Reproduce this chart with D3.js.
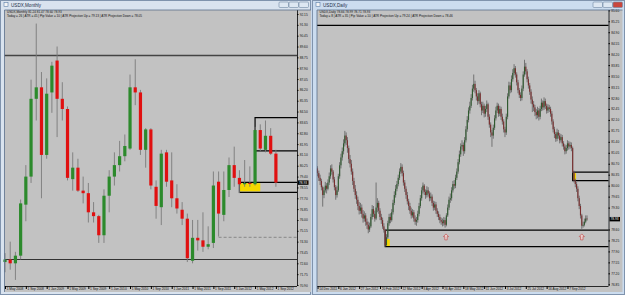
<!DOCTYPE html>
<html>
<head>
<meta charset="utf-8">
<script src="https://cdn.jsdelivr.net/npm/d3@7"></script>
<style>
  body { margin: 0; background: #c9d8ea; }
  svg { display: block; font-family: "Liberation Sans", Arial, sans-serif; }
</style>
</head>
<body>
<script>
// ---- USDX monthly, May 2008 .. Sep 2012
const monthOpen  = [72.7,72.9,72.6,73.2,77.2,79.4,85.5,86.4,81.1,86.0,88.5,85.5,84.7,79.2,80.1,78.3,78.1,76.6,76.3,74.8,77.9,79.4,80.3,81.0,81.6,86.4,86.0,81.5,83.1,78.6,77.0,81.3,79.1,77.7,76.8,76.1,72.8,74.6,74.4,73.9,74.2,79.0,76.4,78.35,80.3,79.3,78.8,78.9,78.8,83.05,81.5,82.6,81.2];
const monthHigh  = [73.4,74.3,73.5,77.6,80.3,87.0,91.4,87.6,87.1,88.4,89.6,86.8,84.9,81.3,80.8,79.4,78.9,77.4,76.4,78.4,79.9,81.3,82.2,82.7,87.4,88.6,86.2,83.2,83.2,79.1,81.5,81.5,81.3,78.8,77.4,76.5,76.0,76.0,76.6,75.5,79.8,79.8,79.8,80.9,81.75,79.9,80.7,80.2,83.3,83.5,83.8,83.2,81.5];
const monthLow   = [71.9,72.1,71.3,72.9,75.9,78.9,83.8,77.7,80.8,84.4,82.5,83.8,79.1,78.3,78.2,77.3,75.8,75.8,74.2,74.2,76.6,78.7,79.8,80.6,81.5,85.0,81.1,80.1,78.4,76.1,75.6,78.6,77.0,76.5,75.6,72.7,72.6,73.6,73.5,73.7,73.8,74.7,75.9,77.8,78.6,78.1,78.6,78.6,78.7,81.4,81.3,81.1,78.6];
const monthClose = [72.9,72.6,73.2,77.3,79.4,85.5,86.4,81.1,85.9,88.1,85.5,84.7,79.3,80.1,78.3,78.1,76.6,76.3,74.8,77.9,79.4,80.3,81.0,81.8,86.4,86.0,81.5,83.1,78.7,77.1,81.2,79.0,77.7,76.9,76.1,73.0,74.6,74.4,73.9,74.1,78.7,76.5,78.35,80.3,79.3,78.8,78.9,78.82,83.05,81.6,82.6,81.2,78.93];
const monthDates = ["1 May 2008","1 Sep 2008","1 Jan 2009","1 May 2009","1 Sep 2009","1 Jan 2010","1 May 2010","1 Sep 2010","1 Jan 2011","1 May 2011","1 Sep 2011","1 Jan 2012","1 May 2012","1 Sep 2012"];
const monthPrices = [70.90,71.75,72.60,73.45,74.30,75.15,76.00,76.85,77.70,78.55,79.40,80.25,81.10,81.95,82.80,83.65,84.50,85.35,86.20,87.05,87.90,88.75,89.60,90.45,91.30,92.15];

// ---- USDX daily, Dec 2011 .. Sep 2012
const dayOpen = [80.55,80.40,80.25,80.15,79.95,79.70,79.85,80.00,79.90,80.10,
  80.30,80.55,80.45,80.20,79.95,79.70,79.85,80.30,80.65,80.90,
  81.10,81.35,81.60,81.45,81.20,80.85,80.70,80.45,80.15,79.90,
  79.70,79.55,79.35,79.20,79.30,79.10,78.95,79.05,78.85,78.75,
  78.60,78.70,79.00,79.25,79.10,78.95,79.30,79.45,79.20,79.00,
  78.90,78.70,78.58,78.10,78.35,78.80,79.00,78.90,79.15,79.45,
  79.70,79.90,80.05,80.25,80.45,80.60,80.40,80.10,79.90,79.70,
  79.50,79.35,79.20,79.05,79.15,78.95,78.85,78.90,79.10,79.35,
  79.60,79.85,80.00,79.80,79.70,79.85,79.75,79.60,79.65,79.45,
  79.30,79.40,79.20,79.10,79.00,78.90,78.85,78.80,78.90,78.75,
  79.05,79.30,79.55,79.60,79.85,80.05,80.00,80.25,80.45,80.75,
  81.00,81.25,81.30,81.10,81.45,81.80,82.10,82.40,82.55,82.80,
  83.10,83.25,83.05,82.85,82.70,82.95,82.60,82.40,82.55,82.30,
  82.45,82.60,82.20,81.95,81.70,81.60,81.85,82.15,82.40,82.55,
  82.30,82.45,82.20,82.05,81.80,81.70,82.20,82.85,83.20,83.05,
  83.40,83.60,83.75,83.55,83.30,83.05,82.90,82.80,83.10,83.55,
  83.80,83.65,83.40,83.20,83.00,82.75,82.60,82.50,82.35,82.25,
  82.40,82.20,82.45,82.65,82.50,82.70,82.55,82.40,82.50,82.45,
  82.30,82.05,81.80,81.65,81.50,81.70,81.60,81.45,81.55,81.35,
  81.25,81.10,81.20,81.35,81.25,81.30,81.20,80.43,80.16,80.05,
  79.90,79.60,79.35,79.05,78.72,78.75,78.85,78.95];
const dayHigh = [80.62,80.48,80.35,80.22,80.00,79.95,80.12,80.08,80.20,80.42,
  80.65,80.68,80.50,80.28,80.02,79.98,80.38,80.75,81.02,81.22,
  81.48,81.75,81.70,81.55,81.28,80.98,80.82,80.55,80.25,80.02,
  79.82,79.65,79.48,79.45,79.40,79.22,79.18,79.12,78.95,78.85,
  78.82,79.10,79.38,79.35,79.20,80.10,79.60,79.52,79.28,79.10,
  78.98,78.80,78.62,78.45,78.88,79.10,79.12,79.25,79.55,79.82,
  80.02,80.15,80.35,80.55,80.72,80.68,80.48,80.18,79.98,79.80,
  79.58,79.45,79.30,79.25,79.22,79.05,79.00,79.20,79.45,79.70,
  79.95,80.10,80.05,79.88,79.98,79.95,79.82,79.78,79.72,79.52,
  79.50,79.48,79.28,79.18,79.08,78.98,78.95,79.00,78.98,79.12,
  79.40,79.65,79.75,79.95,80.15,80.18,80.35,80.55,80.85,81.12,
  81.35,81.45,81.38,81.55,81.90,82.22,82.50,82.68,82.92,83.22,
  83.55,83.35,83.12,82.95,83.05,83.00,82.68,82.68,82.62,82.55,
  82.72,82.65,82.28,82.02,81.78,81.95,82.25,82.52,82.65,82.62,
  82.55,82.52,82.30,82.12,81.88,82.30,82.95,83.32,83.30,83.52,
  83.72,83.88,83.82,83.62,83.38,83.12,82.98,83.20,83.65,84.02,
  83.92,83.72,83.48,83.28,83.08,82.85,82.70,82.58,82.45,82.52,
  82.48,82.55,82.78,82.72,82.82,82.78,82.62,82.60,82.58,82.52,
  82.38,82.12,81.88,81.72,81.82,81.78,81.68,81.65,81.62,81.42,
  81.32,81.30,81.45,81.42,81.40,81.38,81.25,80.48,80.22,80.12,
  79.98,79.68,79.42,79.10,78.85,78.95,79.05,79.05];
const dayLow = [80.30,80.15,80.02,79.85,79.33,79.60,79.78,79.75,79.85,80.02,
  80.22,80.35,80.10,79.85,79.55,79.62,79.80,80.22,80.55,80.80,
  81.00,81.25,81.30,81.05,80.72,80.58,80.35,80.02,79.80,79.58,
  79.42,79.22,79.08,79.10,78.98,78.82,78.85,78.72,78.62,78.48,
  78.52,78.65,78.92,79.00,78.85,78.90,79.15,79.10,78.90,78.78,
  78.62,78.50,78.05,78.08,78.30,78.72,78.80,78.85,79.08,79.38,
  79.62,79.82,79.98,80.18,80.38,80.30,80.00,79.80,79.58,79.40,
  79.22,79.10,78.95,78.98,78.85,78.75,78.72,78.82,79.02,79.28,
  79.52,79.75,79.70,79.58,79.62,79.65,79.50,79.52,79.35,79.20,
  79.22,79.10,79.00,78.90,78.80,78.75,78.70,78.72,78.66,78.70,
  79.00,79.22,79.45,79.52,79.78,79.90,79.92,80.18,80.38,80.68,
  80.92,81.15,80.95,81.02,81.38,81.72,82.02,82.30,82.48,82.72,
  83.00,82.95,82.72,82.58,82.62,82.50,82.25,82.32,82.18,82.20,
  82.35,82.10,81.85,81.55,81.24,81.50,81.78,82.08,82.32,82.20,
  82.22,82.10,81.95,81.70,81.55,81.62,82.12,82.78,82.95,82.98,
  83.32,83.52,83.45,83.20,82.95,82.80,82.70,82.72,83.02,83.48,
  83.55,83.30,83.10,82.90,82.62,82.35,82.38,82.22,82.12,82.15,
  82.08,82.12,82.38,82.40,82.42,82.45,82.30,82.32,82.35,82.20,
  81.95,81.70,81.52,81.40,81.42,81.50,81.35,81.38,81.25,81.15,
  81.00,81.02,81.12,81.15,81.18,81.10,80.40,80.10,79.95,79.80,
  79.50,79.25,78.95,78.62,78.66,78.70,78.80,78.88];
const dayClose = [80.40,80.25,80.15,79.95,79.70,79.85,80.00,79.90,80.10,80.30,
  80.55,80.45,80.20,79.95,79.70,79.85,80.30,80.65,80.90,81.10,
  81.35,81.60,81.45,81.20,80.85,80.70,80.45,80.15,79.90,79.70,
  79.55,79.35,79.20,79.30,79.10,78.95,79.05,78.85,78.75,78.60,
  78.70,79.00,79.25,79.10,78.95,79.30,79.45,79.20,79.00,78.90,
  78.70,78.58,78.10,78.35,78.80,79.00,78.90,79.15,79.45,79.70,
  79.90,80.05,80.25,80.45,80.60,80.40,80.10,79.90,79.70,79.50,
  79.35,79.20,79.05,79.15,78.95,78.85,78.90,79.10,79.35,79.60,
  79.85,80.00,79.80,79.70,79.85,79.75,79.60,79.65,79.45,79.30,
  79.40,79.20,79.10,79.00,78.90,78.85,78.80,78.90,78.75,79.05,
  79.30,79.55,79.60,79.85,80.05,80.00,80.25,80.45,80.75,81.00,
  81.25,81.30,81.10,81.45,81.80,82.10,82.40,82.55,82.80,83.10,
  83.25,83.05,82.85,82.70,82.95,82.60,82.40,82.55,82.30,82.45,
  82.60,82.20,81.95,81.70,81.60,81.85,82.15,82.40,82.55,82.30,
  82.45,82.20,82.05,81.80,81.70,82.20,82.85,83.20,83.05,83.40,
  83.60,83.75,83.55,83.30,83.05,82.90,82.80,83.10,83.55,83.80,
  83.65,83.40,83.20,83.00,82.75,82.60,82.50,82.35,82.25,82.40,
  82.20,82.45,82.65,82.50,82.70,82.55,82.40,82.50,82.45,82.30,
  82.05,81.80,81.65,81.50,81.70,81.60,81.45,81.55,81.35,81.25,
  81.10,81.20,81.35,81.25,81.30,81.20,80.43,80.16,80.05,79.90,
  79.60,79.35,79.05,78.72,78.75,78.85,78.95,78.93];
const dayDates = ["14 Dec 2011","6 Jan 2012","27 Jan 2012","20 Feb 2012","12 Mar 2012","3 Apr 2012","26 Apr 2012","18 May 2012","11 Jun 2012","3 Jul 2012","25 Jul 2012","16 Aug 2012","7 Sep 2012"];
const dayPrices = [76.85,77.20,77.55,77.90,78.25,78.60,79.30,79.65,80.00,80.35,80.70,81.05,81.40,81.75,82.10,82.45,82.80,83.15,83.50,83.85,84.20,84.55,84.90,85.25,85.60];

const lastPrice = 78.93;

const W = 625, H = 295;
const svg = d3.select("body").append("svg").attr("width", W).attr("height", H);

// window frame, title bar and buttons
function drawWindow(x0, x1, title, active) {
  const g = svg.append("g");
  g.append("rect").attr("x", x0 + 0.5).attr("y", 0.5).attr("width", x1 - x0 - 1).attr("height", H - 1)
    .attr("fill", active ? "#cbdcef" : "#d9e3ef").attr("stroke", "#7f93ad").attr("stroke-width", 1);
  g.append("rect").attr("x", x0 + 4).attr("y", 2.5).attr("width", 4).attr("height", 4)
    .attr("fill", "#f4f4f4").attr("stroke", "#5a7ea8").attr("stroke-width", 0.6);
  g.append("text").attr("x", x0 + 11).attr("y", 6.6).attr("font-size", 4.6).attr("fill", "#1f2f45").text(title);
  const bx = x1 - 32;
  [0, 10, 20].forEach((d, i) => {
    g.append("rect").attr("x", bx + d).attr("y", 2).attr("width", 9.5).attr("height", 5.5).attr("rx", 1)
      .attr("fill", active && i === 2 ? "#c9463d" : "#dde7f2").attr("stroke", "#6f86a3").attr("stroke-width", 0.6);
  });
}

function drawChart(c) {
  const g = svg.append("g");
  const [L, R, T, B] = c.plot;
  const x = d3.scaleLinear().domain([0, c.open.length - 1]).range(c.xRange);
  const y = d3.scaleLinear().domain(c.yDomain).range(c.yRange);

  g.append("rect").attr("x", L).attr("y", T).attr("width", R - L).attr("height", B - T).attr("fill", "#c2c2c2");
  g.append("rect").attr("x", L).attr("y", B).attr("width", R - L + 14).attr("height", H - B - 3).attr("fill", "#c2c2c2");
  g.append("rect").attr("x", R).attr("y", T).attr("width", 14).attr("height", B - T).attr("fill", "#c2c2c2");

  c.header.forEach((t, i) => g.append("text").attr("x", L + 2.5).attr("y", T + 3.4 + i * 3.5)
    .attr("font-size", 3.1).attr("fill", "#111").text(t));

  // yellow boxes
  c.boxes.forEach(b => g.append("rect")
    .attr("x", x(b.from)).attr("width", x(b.to) - x(b.from))
    .attr("y", y(b.top)).attr("height", y(b.bottom) - y(b.top)).attr("fill", "#f5d800"));

  // horizontal lines
  c.hlines.forEach(h => g.append("line")
    .attr("x1", h.from == null ? L : x(h.from)).attr("x2", R)
    .attr("y1", y(h.price)).attr("y2", y(h.price))
    .attr("stroke", h.color).attr("stroke-width", h.width).attr("stroke-dasharray", h.dash || null));

  // open-ended rectangles
  c.rects.forEach(r => g.append("path")
    .attr("d", `M${R},${y(r.top)}H${x(r.from)}V${y(r.bottom)}H${R}`)
    .attr("fill", "none").attr("stroke", "#000").attr("stroke-width", 1.2));

  // candles
  const bars = d3.range(c.open.length);
  g.append("g").selectAll("line").data(bars).join("line")
    .attr("x1", i => x(i)).attr("x2", i => x(i))
    .attr("y1", i => y(c.high[i])).attr("y2", i => y(c.low[i]))
    .attr("stroke", c.wick).attr("stroke-width", c.wickW);
  g.append("g").selectAll("rect").data(bars).join("rect")
    .attr("x", i => x(i) - c.bodyW / 2).attr("width", c.bodyW)
    .attr("y", i => y(Math.max(c.open[i], c.close[i])))
    .attr("height", i => Math.max(0.8, Math.abs(y(c.open[i]) - y(c.close[i]))))
    .attr("fill", i => c.close[i] >= c.open[i] ? c.up : c.down);

  // arrows
  (c.arrows || []).forEach(a => g.append("path")
    .attr("transform", `translate(${x(a.bar)},${y(a.price)})`)
    .attr("d", "M0,0L2.6,2.7H1.2V6H-1.2V2.7H-2.6Z")
    .attr("fill", "#ecd2d2").attr("stroke", "#c0403c").attr("stroke-width", 0.6));

  // price scale
  const ya = g.append("g").attr("transform", `translate(${R},0)`)
    .call(d3.axisRight(y).tickValues(c.priceTicks).tickSize(1.5).tickPadding(1.2).tickFormat(d3.format(".2f")));
  ya.select(".domain").attr("d", `M0.5,${T}V${B}`).attr("stroke", "#000").attr("stroke-width", 0.8);
  ya.selectAll("text").attr("font-size", 3.2).attr("fill", "#111");

  // time scale
  const xa = g.append("g").attr("transform", `translate(0,${B})`)
    .call(d3.axisBottom(x).tickValues(c.dateTicks).tickSize(3).tickPadding(-1.6).tickFormat((d, i) => c.dates[i]));
  xa.select(".domain").attr("d", `M${L},0.5H${R}`).attr("stroke", "#000").attr("stroke-width", 0.8);
  xa.selectAll("text").attr("font-size", 3.2).attr("fill", "#111").attr("text-anchor", "start").attr("dx", 1.2).attr("dy", "0.9em");

  // current price tag
  const ty = y(lastPrice);
  g.append("rect").attr("x", R + 1).attr("y", ty - 2.2).attr("width", 10.5).attr("height", 4.4).attr("fill", "#000");
  g.append("text").attr("x", R + 2).attr("y", ty + 1.1).attr("font-size", 3.2).attr("fill", "#fff").text(lastPrice.toFixed(2));

  // plot border
  g.append("line").attr("x1", L).attr("x2", L).attr("y1", T).attr("y2", H - 3).attr("stroke", "#5b6f8a").attr("stroke-width", 0.8);
  g.append("line").attr("x1", L).attr("x2", R + 14).attr("y1", T).attr("y2", T).attr("stroke", "#5b6f8a").attr("stroke-width", 0.8);
}

drawWindow(0, 311, "USDX,Monthly", false);
drawWindow(312, 625, "USDX,Daily", true);

drawChart({
  plot: [4.5, 297, 10, 286],
  open: monthOpen, high: monthHigh, low: monthLow, close: monthClose,
  xRange: [5, 275.9], yDomain: [70.90, 92.15], yRange: [285, 14],
  bodyW: 3.2, wickW: 0.9, wick: "#7a7a7a", up: "#2c8a2c", down: "#e01010",
  priceTicks: monthPrices, dates: monthDates, dateTicks: d3.range(0, 53, 4),
  header: ["USDX,Monthly  81.24 81.47 78.60 78.93",
           "Today = 26   |   ATR = 45   |   Pip Value = 10   |   ATR Projection Up = 79.13   |   ATR Projection Down = 78.05"],
  hlines: [{price: 88.9, color: "#444", width: 1.4}, {price: 72.9, color: "#333", width: 1.2},
           {price: 74.64, from: 41, color: "#888", width: 1, dash: "3,2"}],
  rects: [{from: 48, top: 84.03, bottom: 81.41}, {from: 45, top: 78.95, bottom: 78.17}],
  boxes: [{from: 45, to: 49, top: 78.88, bottom: 78.24}]
});

drawChart({
  plot: [317, 608.5, 10, 286],
  open: dayOpen, high: dayHigh, low: dayLow, close: dayClose,
  xRange: [317.5, 587], yDomain: [76.85, 85.60], yRange: [284.3, 10.3],
  bodyW: 1.1, wickW: 0.8, wick: "#5e5e5e", up: "#2f5a2f", down: "#7a2e2e",
  priceTicks: dayPrices, dates: dayDates, dateTicks: d3.range(0, 208, 16),
  header: ["USDX,Daily  78.66 78.99 78.71 78.93",
           "Today = 8   |   ATR = 35   |   Pip Value = 10   |   ATR Projection Up = 79.24   |   ATR Projection Down = 78.46"],
  hlines: [{price: 85.12, color: "#000", width: 1.2}],
  rects: [{from: 52, top: 78.58, bottom: 78.05}, {from: 196, top: 80.43, bottom: 80.16}],
  boxes: [{from: 52, to: 55.5, top: 78.30, bottom: 78.07}, {from: 196, to: 198.6, top: 80.40, bottom: 80.18}],
  arrows: [{bar: 98.7, price: 78.46}, {bar: 203, price: 78.46}]
});
</script>
</body>
</html>
